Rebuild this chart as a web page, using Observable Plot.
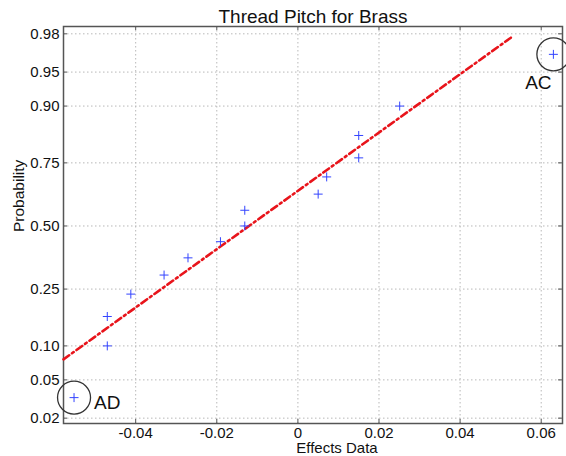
<!DOCTYPE html>
<html>
<head>
<meta charset="utf-8">
<script src="https://cdn.jsdelivr.net/npm/d3@7"></script>
<script src="https://cdn.jsdelivr.net/npm/@observablehq/plot@0.6"></script>
<style>
  html, body { margin: 0; padding: 0; background: #fff; }
  #chart svg { display: block; }
</style>
</head>
<body>
<div id="chart"></div>
<script>
// ---- data ----
const title = "Thread Pitch for Brass";
const xLabel = "Effects Data";
const yLabel = "Probability";
const effects = [-0.0552, -0.0470, -0.0470, -0.0412, -0.0330, -0.0271, -0.0191, -0.0131, -0.0131, 0.0050, 0.0071, 0.0150, 0.0150, 0.0251, 0.0630];
const probabilities = [0.0333, 0.1000, 0.1667, 0.2333, 0.3000, 0.3667, 0.4333, 0.5000, 0.5667, 0.6333, 0.7000, 0.7667, 0.8333, 0.9000, 0.9667];
const pointNames = ["AD", "", "", "", "", "", "", "", "", "", "", "", "", "", "AC"];
const refLineX = [-0.0578, 0.0532];
const refLineP = [0.077, 0.979];
const xTicks = [-0.04, -0.02, 0, 0.02, 0.04, 0.06];
const yTicks = [0.02, 0.05, 0.10, 0.25, 0.50, 0.75, 0.90, 0.95, 0.98];

// inverse normal CDF (probability paper transform)
function probit(p) {
  const a = [-3.969683028665376e+01, 2.209460984245205e+02, -2.759285104469687e+02, 1.383577518672690e+02, -3.066479806614716e+01, 2.506628277459239e+00];
  const b = [-5.447609879822406e+01, 1.615858368580409e+02, -1.556989798598866e+02, 6.680131188771972e+01, -1.328068155288572e+01];
  const c = [-7.784894002430293e-03, -3.223964580411365e-01, -2.400758277161838e+00, -2.549732539343734e+00, 4.374664141464968e+00, 2.938163982698783e+00];
  const d = [7.784695709041462e-03, 3.224671290700398e-01, 2.445134137142996e+00, 3.754408661907416e+00];
  const pl = 0.02425, ph = 1 - pl;
  if (p < pl) {
    const q = Math.sqrt(-2 * Math.log(p));
    return (((((c[0]*q+c[1])*q+c[2])*q+c[3])*q+c[4])*q+c[5]) / ((((d[0]*q+d[1])*q+d[2])*q+d[3])*q+1);
  }
  if (p <= ph) {
    const q = p - 0.5, r = q * q;
    return (((((a[0]*r+a[1])*r+a[2])*r+a[3])*r+a[4])*r+a[5])*q / (((((b[0]*r+b[1])*r+b[2])*r+b[3])*r+b[4])*r+1);
  }
  const q = Math.sqrt(-2 * Math.log(1 - p));
  return -(((((c[0]*q+c[1])*q+c[2])*q+c[3])*q+c[4])*q+c[5]) / ((((d[0]*q+d[1])*q+d[2])*q+d[3])*q+1);
}

const points = effects.map((x, i) => ({x, z: probit(probabilities[i]), name: pointNames[i]}));
const refLine = refLineX.map((x, i) => ({x, z: probit(refLineP[i])}));
const zTicks = yTicks.map(probit);
const f2 = d3.format(".2f");
const xFmt = d => d === 0 ? "0" : f2(d).replace("\u2212", "-");
const yFmt = z => f2(yTicks[zTicks.indexOf(z)]);

const W = 566, H = 456;
const mL = 63, mR = 4, mT = 26, mB = 33;
const fw = W - mL - mR, fh = H - mT - mB, tl = 4;
const axisColor = "#555";
const gridStyle = {stroke: "#b8b8b8", strokeOpacity: 1, strokeWidth: 1, strokeDasharray: "1.5,2.5"};

const chart = Plot.plot({
  width: W,
  height: H,
  marginLeft: mL, marginRight: mR, marginTop: mT, marginBottom: mB,
  style: {fontFamily: "'Liberation Sans', Arial, sans-serif", fontSize: "15px", color: "#111", background: "#fff"},
  x: {domain: [-0.0578, 0.06525]},
  y: {domain: [-2.111, 2.132]},
  marks: [
    Plot.gridX(xTicks, gridStyle),
    Plot.gridY(zTicks, gridStyle),
    // inward ticks on all four sides
    Plot.tickY(zTicks, {y: d => d, insetRight: fw - tl, stroke: axisColor}),
    Plot.tickY(zTicks, {y: d => d, insetLeft: fw - tl, stroke: axisColor}),
    Plot.tickX(xTicks, {x: d => d, insetTop: fh - tl, stroke: axisColor}),
    Plot.tickX(xTicks, {x: d => d, insetBottom: fh - tl, stroke: axisColor}),
    Plot.axisX(xTicks, {tickSize: 0, tickPadding: 4, tickFormat: xFmt, label: null, fontSize: 15}),
    Plot.axisY(zTicks, {tickSize: 0, tickPadding: 4, tickFormat: yFmt, label: null, fontSize: 15}),
    Plot.frame({stroke: axisColor, strokeWidth: 1.5}),
    Plot.line(refLine, {x: "x", y: "z", stroke: "#e8141b", strokeWidth: 2.6, strokeDasharray: "7,3.5,2,3.5"}),
    Plot.dot(points, {x: "x", y: "z", symbol: "plus", r: 3, stroke: "#3344ff", strokeWidth: 1}),
    Plot.dot(points.filter(d => d.name), {x: "x", y: "z", r: 16.5, stroke: "#333", strokeWidth: 1.3, fill: "none"}),
    Plot.text(points.filter(d => d.name === "AD"), {x: "x", y: "z", text: "name", textAnchor: "start", dx: 20, dy: 5.5, fontSize: 19, fill: "#111"}),
    Plot.text(points.filter(d => d.name === "AC"), {x: "x", y: "z", text: "name", dx: -15, dy: 28.5, fontSize: 19, fill: "#111"}),
    Plot.text([title], {frameAnchor: "top", lineAnchor: "bottom", dy: -3.5, fontSize: 19, fill: "#111"}),
    Plot.text([xLabel], {frameAnchor: "bottom", lineAnchor: "bottom", dx: 24, dy: 29.5, fontSize: 15, fill: "#111"}),
    Plot.text([yLabel], {frameAnchor: "left", rotate: -90, dx: -44, dy: 7, fontSize: 15.5, fill: "#111"})
  ]
});
document.getElementById("chart").appendChild(chart);
</script>
</body>
</html>
